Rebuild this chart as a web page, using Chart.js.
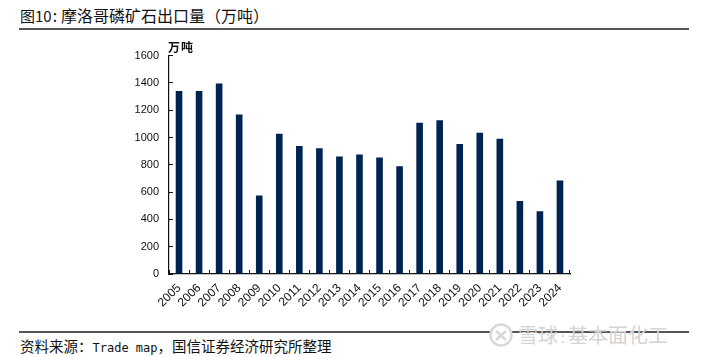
<!DOCTYPE html>
<html>
<head>
<meta charset="utf-8">
<script src="https://cdn.jsdelivr.net/npm/chart.js@4"></script>
<style>
  html, body { margin: 0; padding: 0; background: #fff; }
  body { width: 701px; height: 357px; position: relative; overflow: hidden; }
  .txt { position: absolute; white-space: nowrap; color: #111; font-family: "Noto Sans CJK SC", sans-serif; }
  .rule { position: absolute; left: 19px; width: 670px; background: #555; height: 1.5px; }
  #wrap { position: absolute; left: 130px; top: 35px; width: 460px; height: 285px; }
</style>
</head>
<body>
<div class="txt" style="left:20px;top:3px;font-size:16px;line-height:24px;"><span style="font-size:15px;">图10</span><span style="margin:0 4px 0 1px;">:</span>摩洛哥磷矿石出口量（万吨）</div>
<div class="rule" style="top:28px;"></div>
<div id="wrap"><canvas id="chart"></canvas></div>
<div class="txt" style="left:168px;top:39px;font-size:12px;line-height:16px;font-weight:700;letter-spacing:1px;">万吨</div>
<div class="rule" style="top:331px;"></div>
<div class="txt" style="left:20px;top:336px;font-size:14.5px;line-height:20px;">资料来源：<span style="font-family:'DejaVu Sans Mono',monospace;font-size:12px;">Trade map</span>，国信证券经济研究所整理</div>
<svg style="position:absolute;left:488px;top:323px;" width="26" height="26" viewBox="0 0 26 26">
  <circle cx="13" cy="12" r="10.5" fill="#fff" stroke="#d8d8d8" stroke-width="2.5"/>
  <path d="M8 8 L18 17 M18 8 L8 17" fill="none" stroke="#d8d8d8" stroke-width="2.5"/>
</svg>
<div class="txt" style="left:518px;top:322px;font-size:20px;line-height:26px;color:#d4d4d4;">雪球<span style="margin:0 3px;font-size:14px;">:</span>基本面化工</div>

<script>
const years = ['2005', '2006', '2007', '2008', '2009', '2010', '2011', '2012', '2013', '2014',
  '2015', '2016', '2017', '2018', '2019', '2020', '2021', '2022', '2023', '2024']
const exports_wt = [1340, 1340, 1395, 1168, 575, 1028, 937, 922, 860, 875,
  853, 790, 1108, 1127, 952, 1035, 990, 535, 460, 685]

const tickFont = { family: '"Liberation Sans", Arial, sans-serif', size: 11 }

new Chart(document.getElementById('chart'), {
  type: 'bar',
  data: {
    labels: years,
    datasets: [{
      data: exports_wt,
      backgroundColor: '#002452',
      categoryPercentage: 1,
      barPercentage: 0.33,
    }],
  },
  options: {
    responsive: true,
    maintainAspectRatio: false,
    animation: false,
    layout: { padding: { top: 20, right: 20, left: 0, bottom: 0 } },
    plugins: { legend: { display: false }, tooltip: { enabled: false } },
    scales: {
      x: {
        afterFit: (scale) => { scale.height = 46 },
        grid: { drawOnChartArea: false, tickLength: -4, color: '#111', offset: true },
        border: { color: '#111', width: 1.2 },
        ticks: {
          color: '#111',
          font: { family: tickFont.family, size: 12 },
          maxRotation: 45,
          minRotation: 45,
          padding: 11,
          autoSkip: false,
        },
      },
      y: {
        min: 0,
        max: 1600,
        afterFit: (scale) => { scale.width = 39 },
        grid: { drawOnChartArea: false, tickLength: -4, color: '#111' },
        border: { color: '#111', width: 1.2 },
        ticks: {
          color: '#111',
          font: tickFont,
          stepSize: 200,
          padding: 14,
          callback: (v) => String(v),
        },
      },
    },
  },
})
</script>
</body>
</html>
